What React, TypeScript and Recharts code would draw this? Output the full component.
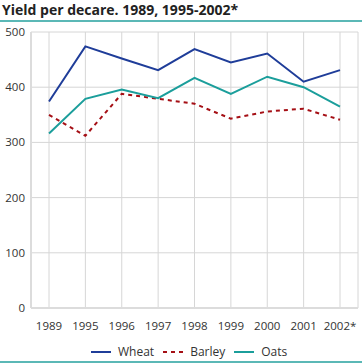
import React from "react";
import { LineChart, Line, XAxis, YAxis, CartesianGrid, Legend } from "recharts";

const years = ["1989", "1995", "1996", "1997", "1998", "1999", "2000", "2001", "2002*"];
const wheat = [374, 474, 452, 431, 469, 445, 461, 410, 431];
const barley = [350, 312, 388, 379, 370, 343, 356, 361, 341];
const oats = [316, 379, 396, 380, 417, 388, 419, 400, 365];
const yTicks = [0, 100, 200, 300, 400, 500];

const series = [
  { key: "wheat", name: "Wheat", color: "#1f3d99", dash: undefined as string | undefined },
  { key: "barley", name: "Barley", color: "#a50f15", dash: "4 4" },
  { key: "oats", name: "Oats", color: "#1b9e9b", dash: undefined as string | undefined },
];

const data = years.map((year, i) => ({
  year,
  wheat: wheat[i],
  barley: barley[i],
  oats: oats[i],
}));

const font = "'Open Sans', sans-serif";

function LegendContent() {
  return (
    <div style={{ display: "flex", gap: 9, paddingLeft: 91, fontFamily: font, fontSize: 12, color: "#333", lineHeight: "14px" }}>
      {series.map((s) => (
        <div key={s.key} style={{ display: "flex", alignItems: "center", gap: 7 }}>
          <svg width={20} height={4}>
            <line x1={0} y1={2} x2={20} y2={2} stroke={s.color} strokeWidth={2} strokeDasharray={s.dash} />
          </svg>
          <span>{s.name}</span>
        </div>
      ))}
    </div>
  );
}

export default function App() {
  return (
    <div style={{ position: "absolute", left: 0, top: 0, width: 362, height: 363, background: "#fff" }}>
      <div
        style={{
          position: "absolute",
          left: 2,
          top: 1,
          fontFamily: font,
          fontWeight: 700,
          fontSize: 14,
          color: "#222",
          lineHeight: "17px",
        }}
      >
        Yield per decare. 1989, 1995-2002*
      </div>
      <div style={{ position: "absolute", left: 0, top: 20, width: 362, height: 1.5, background: "#5bb8b6" }} />
      <div style={{ position: "absolute", left: 0, top: 0 }}>
        <LineChart width={362} height={363} data={data} margin={{ top: 32, right: 4, left: 0, bottom: 0 }}>
          <CartesianGrid stroke="#d6d6d6" strokeWidth={1} />
          <XAxis
            dataKey="year"
            padding={{ left: 18, right: 18 }}
            axisLine={{ stroke: "#dcdcdc", strokeWidth: 2 }}
            tickLine={false}
            tickSize={12}
            tickMargin={2}
            height={25}
            interval={0}
            tick={{ fill: "#333", fontSize: 11.5, fontFamily: font }}
          />
          <YAxis
            domain={[0, 500]}
            ticks={yTicks}
            width={31}
            axisLine={{ stroke: "#dcdcdc", strokeWidth: 2 }}
            tickLine={false}
            tickSize={4}
            tickMargin={2}
            tick={{ fill: "#333", fontSize: 11.5, fontFamily: font }}
          />
          <Legend
            verticalAlign="bottom"
            height={30}
            wrapperStyle={{ top: 345, left: 0, width: 362 }}
            content={<LegendContent />}
          />
          {series.map((s) => (
            <Line
              key={s.key}
              type="linear"
              dataKey={s.key}
              name={s.name}
              stroke={s.color}
              strokeWidth={2}
              strokeDasharray={s.dash}
              dot={false}
              activeDot={false}
              isAnimationActive={false}
            />
          ))}
        </LineChart>
      </div>
      <div style={{ position: "absolute", left: 0, top: 361, width: 362, height: 1.5, background: "#5bb8b6" }} />
    </div>
  );
}
